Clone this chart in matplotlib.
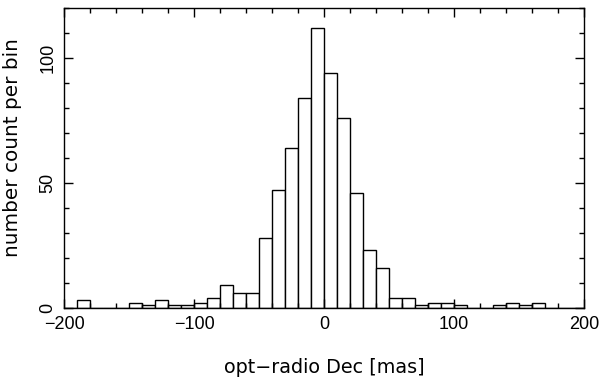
#
#   Histogram of optical - radio declination offsets
#

import matplotlib
matplotlib.use("Agg")
import matplotlib.pyplot as plt
import numpy as np
from matplotlib.ticker import MultipleLocator

plt.rcParams["font.family"] = ["Liberation Sans", "DejaVu Sans"]
plt.rcParams["font.size"] = 13

# Bin left edges (10 mas bins) and counts per bin
bin_left = np.arange(-200, 200, 10)
counts = [0, 3, 0, 0, 0, 2, 1, 3, 1, 1,
          2, 4, 9, 6, 6, 28, 47, 64, 84, 112,
          94, 76, 46, 23, 16, 4, 4, 1, 2, 2,
          1, 0, 0, 1, 2, 1, 2, 0, 0, 0]
bin_width = 10

fig = plt.figure(figsize=(6.05, 3.81), dpi=100)
ax = fig.add_axes([0.1066, 0.1924, 0.8587, 0.7856])

ax.bar(bin_left, counts, width=bin_width, align="edge",
       facecolor="white", edgecolor="black", linewidth=1.0)

ax.set_xlim(-200, 200)
ax.set_ylim(0, 120)

ax.xaxis.set_major_locator(MultipleLocator(100))
ax.xaxis.set_minor_locator(MultipleLocator(20))
ax.yaxis.set_major_locator(MultipleLocator(50))
ax.yaxis.set_minor_locator(MultipleLocator(10))

ax.tick_params(which="both", direction="in", top=True, right=True,
               width=1.0, color="black")
ax.tick_params(which="major", length=6.5, pad=6)
ax.tick_params(which="minor", length=3.3)
for lbl in ax.get_yticklabels():
    lbl.set_rotation(90)
    lbl.set_va("center")

for s in ax.spines.values():
    s.set_linewidth(1.0)

# wider font for the axis titles, as in the original
ax.set_xlabel("opt\u2212radio Dec [mas]", family="DejaVu Sans", fontsize=13.8)
ax.set_ylabel("number count per bin", family="DejaVu Sans", fontsize=14.4)
ax.xaxis.set_label_coords(0.5, -0.168)
ax.yaxis.set_label_coords(-0.082, 0.535)

fig.savefig("out.png", dpi=100)
